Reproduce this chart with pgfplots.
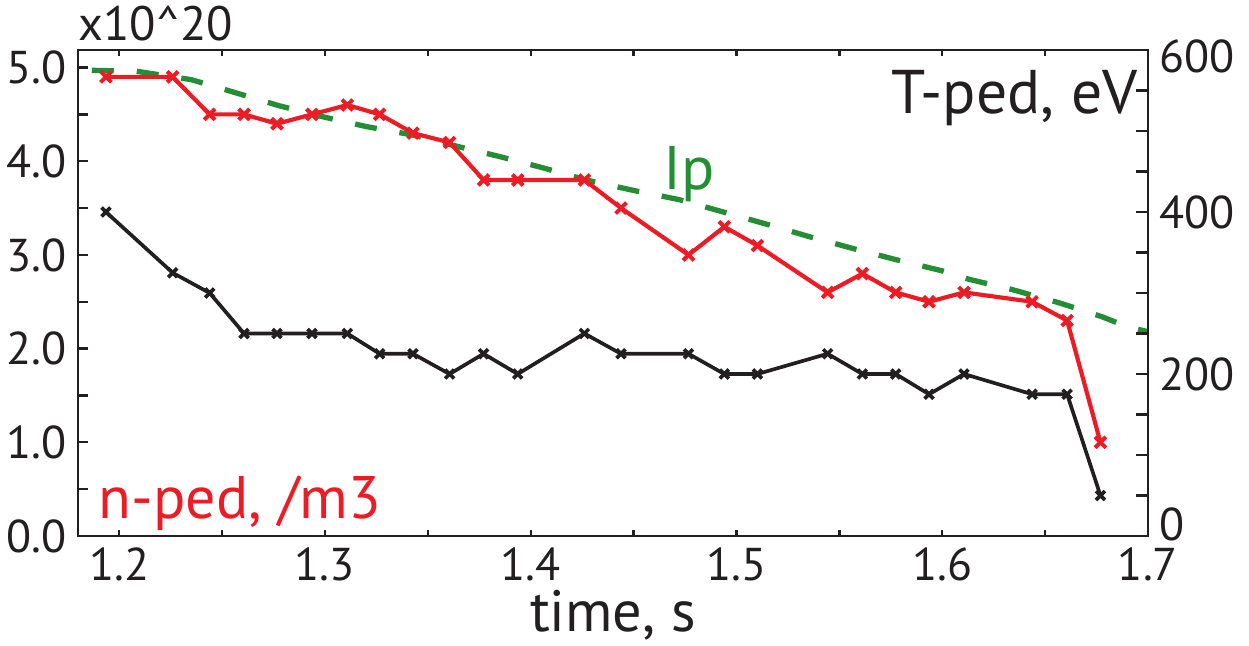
\documentclass[border=0pt]{standalone}
\usepackage{fontspec}
\setmainfont{PT Sans}
\usepackage{pgfplots}
\pgfplotsset{compat=1.18}
\definecolor{cred}{RGB}{237,28,36}
\definecolor{cgreen}{RGB}{35,142,52}
\definecolor{cblack}{RGB}{35,31,32}
\begin{document}
\begin{tikzpicture}
\useasboundingbox (-23.4pt,-32.7pt) rectangle (351.3pt,160.8pt);
\pgfplotsset{
  base/.style={scale only axis, width=321pt, height=145.8pt,
    xmin=1.18, xmax=1.7,
    axis line style={line width=0.7pt, cblack},
    tick style={line width=0.7pt, cblack},
    /pgf/number format/assume math mode=true,
    ticklabel style={font=\fontsize{13.8}{16}\selectfont, text=cblack},
    tick align=inside},
}
% main axis: box, x ticks, n-ped and Ip
\begin{axis}[base, ymin=0, ymax=5.187,
  xtick={1.2,1.3,1.4,1.5,1.6,1.7}, minor xtick={1.25,1.35,1.45,1.55,1.65},
  xticklabel style={/pgf/number format/.cd, fixed, precision=1},
  ytick=\empty,
  major tick length=1.8pt, minor tick length=1.8pt,
  xlabel={time, s},
  xlabel style={font=\fontsize{17.5}{20}\selectfont, text=cblack, yshift=4pt},
  clip=false]
\addplot[cgreen, line width=1.6pt, dash pattern=on 6.6pt off 6.9pt] coordinates {
(1.1867,4.97)(1.2085,4.96)(1.2352,4.87)(1.2552,4.74)(1.2781,4.59)(1.2999,4.47)
(1.3201,4.37)(1.3426,4.28)(1.3622,4.17)(1.3849,4.05)(1.4059,3.93)(1.4269,3.80)
(1.4496,3.69)(1.4722,3.59)(1.4933,3.46)(1.5143,3.33)(1.5362,3.19)(1.5564,3.07)
(1.5774,2.95)(1.6,2.83)(1.613,2.74)(1.634,2.63)(1.6567,2.49)(1.6777,2.34)
(1.6891,2.24)(1.7,2.18)};
\addplot[cred, line width=1.25pt, mark=x, mark size=2.3pt, mark options={line width=1.2pt}] coordinates {
(1.1936,4.9)(1.2260,4.9)(1.2440,4.5)(1.2607,4.5)(1.2767,4.4)(1.2937,4.5)
(1.3109,4.6)(1.3266,4.5)(1.3428,4.3)(1.3606,4.2)(1.3771,3.8)(1.3937,3.8)
(1.4261,3.8)(1.4439,3.5)(1.4767,3.0)(1.4941,3.3)(1.5102,3.1)(1.5443,2.6)
(1.5612,2.8)(1.5774,2.6)(1.5936,2.5)(1.6106,2.6)(1.6437,2.5)(1.6607,2.3)
(1.6769,1.0)};
\node[anchor=base west, text=cred, font=\fontsize{18}{21}\selectfont, inner sep=0pt] at (rel axis cs:0.019,0.037) {n-ped, /m3};
\node[anchor=base east, text=cblack, font=\fontsize{18.5}{21}\selectfont, inner sep=0pt] at (rel axis cs:0.9907,0.870) {T-ped, eV};
\node[anchor=base west, text=cgreen, font=\fontsize{18.5}{21}\selectfont, inner sep=0pt] at (rel axis cs:0.547,0.712) {Ip};
\node[anchor=base west, text=cblack, font=\fontsize{14.5}{16}\selectfont, inner sep=0pt] at (rel axis cs:0,1.02) {x10\textasciicircum 20};
\end{axis}
% left y axis
\begin{axis}[base, ymin=0, ymax=5.187,
  axis x line=none, axis y line*=left,
  ytick={0,1,2,3,4,5}, minor ytick={0.5,1.5,2.5,3.5,4.5},
  yticklabel style={/pgf/number format/.cd, fixed, fixed zerofill, precision=1},
  major tick length=3pt, minor tick length=3pt]
\end{axis}
% right y axis: T-ped
\begin{axis}[base, ymin=0, ymax=600,
  axis x line=none, axis y line*=right,
  ytick={0,200,400,600}, minor ytick={50,100,150,250,300,350,450,500,550},
  yticklabels={\raisebox{-1.2pt}[0pt][0pt]{0},200,400,\raisebox{-6.6pt}[0pt][0pt]{600}},
  major tick length=3.5pt, minor tick length=3.5pt]
\addplot[cblack, line width=1.1pt, mark=x, mark size=1.9pt, mark options={line width=1.1pt}] coordinates {
(1.1936,400)(1.2260,325)(1.2440,300)(1.2607,250)(1.2767,250)(1.2937,250)
(1.3109,250)(1.3266,225)(1.3428,225)(1.3606,200)(1.3771,225)(1.3937,200)
(1.4261,250)(1.4439,225)(1.4767,225)(1.4941,200)(1.5102,200)(1.5443,225)
(1.5612,200)(1.5774,200)(1.5936,175)(1.6106,200)(1.6437,175)(1.6607,175)
(1.6769,50)};
\end{axis}
\end{tikzpicture}
\end{document}
